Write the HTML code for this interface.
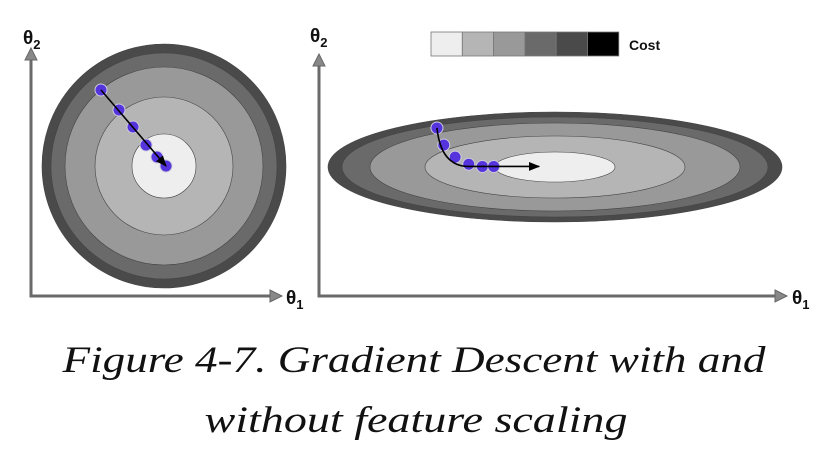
<!DOCTYPE html>
<html><head><meta charset="utf-8"><style>
html,body{margin:0;padding:0;background:#fff;}
svg{display:block;}
</style></head><body>
<svg id="fig" width="830" height="468" viewBox="0 0 830 468" xmlns="http://www.w3.org/2000/svg">
<defs>
<marker id="ah" viewBox="0 0 10 10" refX="9" refY="5" markerWidth="7" markerHeight="7" orient="auto"><path d="M0,1 L10,5 L0,9 z" fill="#000"/></marker>
</defs>
<g id="left"></g>
<g id="right"></g>
<g id="cbar"></g>
<text x="629" y="50" font-family="Liberation Sans, sans-serif" font-weight="bold" font-size="14" fill="#111">Cost</text>
<g font-family="Liberation Serif, serif" font-style="italic" font-size="37" fill="#111" text-anchor="middle">
<text x="414" y="372" textLength="703" lengthAdjust="spacingAndGlyphs">Figure 4-7. Gradient Descent with and</text>
<text x="416" y="432" textLength="423" lengthAdjust="spacingAndGlyphs">without feature scaling</text>
</g>
</svg>
<script>
const costColors = ["#eeeeee","#b5b5b5","#999999","#6a6a6a","#4a4a4a","#000000"];
const leftRingRadii = [122,113,99,69,32];
const leftRingColors = ["#4a4a4a","#6a6a6a","#999999","#b5b5b5","#eeeeee"];
const rightRingRx = [227,213,185,130,60];
const rightRingRy = [55,50,44,31,15];
const leftPathX = [-0.63,-0.45,-0.31,-0.18,-0.07,0.02];
const leftPathY = [0.76,0.56,0.39,0.21,0.09,0.0];
const rightPathX = [-0.52,-0.49,-0.44,-0.38,-0.32,-0.27];
const rightPathY = [0.71,0.40,0.18,0.05,0.01,0.01];
const NS="http://www.w3.org/2000/svg";
function mk(tag,attrs,parent){const e=document.createElementNS(NS,tag);for(const k in attrs)e.setAttribute(k,attrs[k]);parent.appendChild(e);return e;}
const Lcx=164,Lcy=166,Lsc=100;
function lx(v){return Lcx+v*Lsc;}function ly(v){return Lcy-v*Lsc;}
const Rcx=555,Rcy=167,Rsx=227,Rsy=55;
function rx(v){return Rcx+v*Rsx;}function ry(v){return Rcy-v*Rsy;}

function axes(g,x0,y0,yTop,xEnd,lab1x,lab2x,lab2y){
  const a=mk('path',{d:`M${x0},${yTop+8} L${x0},${y0} L${xEnd-10},${y0}`,fill:'none',stroke:'#6a6a6a','stroke-width':3},g);
  
  const t1=mk('path',{d:`M${x0-6},${yTop+12} L${x0},${yTop} L${x0+6},${yTop+12} z`,fill:'#888',stroke:'#666'},g);
  
  const t2=mk('path',{d:`M${xEnd-12},${y0-6} L${xEnd},${y0} L${xEnd-12},${y0+6} z`,fill:'#888',stroke:'#666'},g);
  
  const l1=mk('text',{x:lab1x,y:y0+8,'font-family':'Liberation Sans, sans-serif','font-weight':'bold','font-size':19,fill:'#111'},g);
  l1.innerHTML='θ<tspan font-size="13" dy="5">1</tspan>';
  
  const l2=mk('text',{x:lab2x,y:lab2y,'font-family':'Liberation Sans, sans-serif','font-weight':'bold','font-size':19,fill:'#111'},g);
  l2.innerHTML='θ<tspan font-size="13" dy="5">2</tspan>';
  
}
const L=document.getElementById('left'),R=document.getElementById('right');
axes(L,31,296,48,282,286,23,44);
axes(R,319,296,54,787,792,310,42);
leftRingRadii.forEach((r,i)=>{
  const c=mk('circle',{cx:Lcx,cy:Lcy,r:r,fill:leftRingColors[i],stroke:'#444','stroke-width':0.6},L);
  
});
rightRingRx.forEach((r,i)=>{
  const c=mk('ellipse',{cx:Rcx,cy:Rcy,rx:r,ry:rightRingRy[i],fill:leftRingColors[i],stroke:'#444','stroke-width':0.6},R);
  
});
leftPathX.forEach((v,i)=>{
  const p=mk('circle',{cx:lx(v),cy:ly(leftPathY[i]),r:6,fill:'#5533dd',stroke:'#ccd','stroke-width':1},L);
  
});
const la=mk('line',{x1:lx(leftPathX[0]),y1:ly(leftPathY[0]),x2:lx(leftPathX[5]),y2:ly(leftPathY[5]),stroke:'#000','stroke-width':1.6,'marker-end':'url(#ah)'},L);

rightPathX.forEach((v,i)=>{
  const p=mk('circle',{cx:rx(v),cy:ry(rightPathY[i]),r:6,fill:'#5533dd',stroke:'#ccd','stroke-width':1},R);
  
});
const ra=mk('path',{d:`M${rx(rightPathX[0])},${ry(rightPathY[0])} Q${rx(rightPathX[0])+4},${ry(rightPathY[5])} ${rx(rightPathX[3])},${ry(rightPathY[5])} L${rx(-0.07)},${ry(rightPathY[5])}`,fill:'none',stroke:'#000','stroke-width':1.6,'marker-end':'url(#ah)'},R);

const cb=document.getElementById('cbar');
costColors.forEach((c,i)=>{
  const r=mk('rect',{x:431+i*31.3,y:32,width:31.3,height:24,fill:c,stroke:'#777','stroke-width':0.8},cb);
  
});
</script>
</body></html>
